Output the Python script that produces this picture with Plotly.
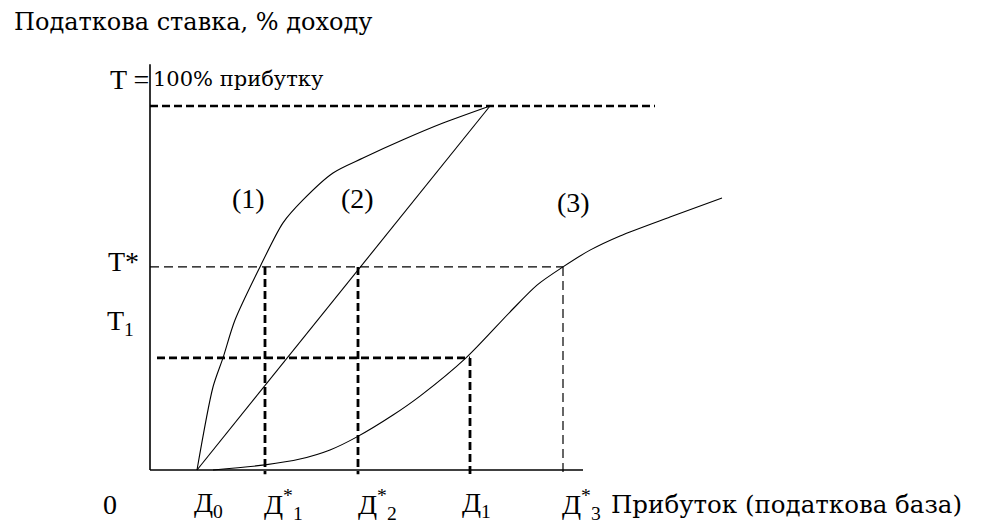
import plotly.graph_objects as go

# ---- data (income units along x, tax rate % along y) ----
D0, D1s, D2s, D1, D3s = 11.75, 28.75, 52.0, 80.0, 103.25
T_FULL, T_STAR, T_1 = 100.0, 55.8, 30.8

curve1_x = [11.75, 15.75, 18.25, 21.25, 27.5, 33.25, 38.25, 45.75, 53.25, 63.25, 73.25, 85.0]
curve1_y = [0.0, 22.8, 30.8, 41.2, 55.8, 67.9, 74.2, 81.6, 85.7, 90.7, 95.3, 100.0]

curve2_x = [11.75, 85.0]
curve2_y = [0.0, 100.0]

curve3_x = [15.75, 28.75, 37.5, 45.0, 51.75, 60.75, 67.5, 79.0, 90.0, 96.75, 103.25, 110.0, 117.5, 130.0, 143.0]
curve3_y = [0.0, 1.4, 3.0, 5.5, 9.1, 15.1, 20.3, 30.8, 43.4, 50.8, 55.8, 60.4, 64.3, 69.5, 74.7]

x_axis_end = 108.25
y_axis_top = 111.5
top_line_end = 126.25

SERIF_BIG = "'Liberation Serif', 'Times New Roman', serif"
SERIF_SMALL = "'DejaVu Serif', serif"
BLACK = "#000000"

fig = go.Figure()

def add_line(x, y, width=1.0, dash="solid", shape="linear"):
    fig.add_trace(go.Scatter(x=x, y=y, mode="lines",
                             line=dict(color=BLACK, width=width, dash=dash, shape=shape, smoothing=0.8),
                             hoverinfo="skip", showlegend=False))

THICK = "8px,4px"
THIN = "9px,5px"

# guide lines
add_line([0, top_line_end], [T_FULL, T_FULL], 2.5, THICK)
add_line([0, D3s], [T_STAR, T_STAR], 1.2, THIN)
add_line([1.75, D1], [T_1, T_1], 2.8, THICK)
add_line([D1s, D1s], [T_STAR, -1.2], 2.8, THICK)
add_line([D2s, D2s], [T_STAR, -1.2], 2.8, THICK)
add_line([D1, D1], [T_1, -1.2], 2.8, THICK)
add_line([D3s, D3s], [T_STAR, -1.2], 1.2, THIN)

# curves
add_line(curve1_x, curve1_y, 1.1, shape="spline")
add_line(curve2_x, curve2_y, 1.1)
add_line(curve3_x, curve3_y, 1.1, shape="spline")

# axes
add_line([0, 0], [0, y_axis_top], 1.6)
add_line([0, x_axis_end], [0, 0], 1.6)

def ann(text, x, y, size, font=SERIF_BIG, xanchor="left", yanchor="middle", xref="x", yref="y", xshift=0, yshift=0):
    fig.add_annotation(text=text, x=x, y=y, xref=xref, yref=yref, showarrow=False,
                       xanchor=xanchor, yanchor=yanchor, xshift=xshift, yshift=yshift,
                       font=dict(family=font, size=size, color=BLACK))

W, H = 987, 523
BIG = 28
ann("Податкова ставка, % доходу", 12 / W, 1 - 22 / H, 24, SERIF_SMALL, xref="paper", yref="paper")
ann("T =", 0, 107.4, BIG, SERIF_BIG, xanchor="right", xshift=1)
ann("100% прибутку", 0, 107.4, 21, SERIF_SMALL, xshift=1)

ann("(1)", 24.5, 74.5, BIG, xanchor="center")
ann("(2)", 51.75, 74.5, BIG, xanchor="center")
ann("(3)", 105.75, 73.5, BIG, xanchor="center")

ann("T*", 0, T_STAR, BIG, xanchor="right", xshift=-9, yshift=5)
ann("T<sub>1</sub>", 0, T_1 + 9.6, BIG, xanchor="right", xshift=-14)

label_y = -9.5
ann("0", 0, label_y, BIG, xanchor="center", xshift=-40)
ann("Д<sub>0</sub>", D0, label_y, BIG, xanchor="left", xshift=-5)
ann("Д<sup>*</sup><sub>1</sub>", D1s, label_y, BIG, xanchor="left", xshift=-3)
ann("Д<sup>*</sup><sub>2</sub>", D2s, label_y, BIG, xanchor="left", xshift=-2)
ann("Д<sub>1</sub>", D1, label_y, BIG, xanchor="left", xshift=-10)
ann("Д<sup>*</sup><sub>3</sub>", D3s, label_y, BIG, xanchor="left", xshift=-3)
ann("Прибуток (податкова база)", D3s, label_y, 24.5, SERIF_SMALL, xanchor="left", xshift=46)

fig.update_layout(
    width=W, height=H,
    margin=dict(l=0, r=0, t=0, b=0),
    paper_bgcolor="white", plot_bgcolor="white",
    xaxis=dict(range=[-37.5, 209.25], visible=False, fixedrange=True),
    yaxis=dict(range=[-14.56, 129.12], visible=False, fixedrange=True),
    showlegend=False,
)

fig.write_html("out.html", config={"displayModeBar": False},
               post_script="document.body.style.margin='0px';document.body.style.overflow='hidden';")
